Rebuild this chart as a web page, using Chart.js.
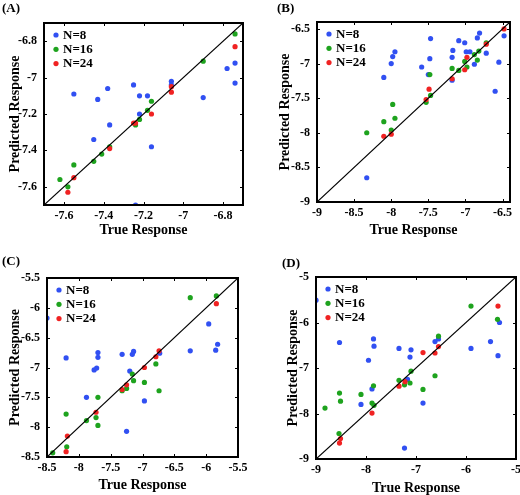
<!DOCTYPE html>
<html>
<head>
<meta charset="utf-8">
<script src="https://cdn.jsdelivr.net/npm/chart.js@4"></script>
<style>
  body { margin: 0; background: #fff; }
  #fig { position: relative; width: 520px; height: 495px; overflow: hidden; }
  canvas { position: absolute; }
  .tag { position: absolute; font: bold 13px "Liberation Serif", "Times New Roman", serif; line-height: 15px; }
</style>
</head>
<body>
<div id="fig">
  <canvas id="cA" width="260" height="245" style="left:0;top:0"></canvas>
  <canvas id="cB" width="260" height="245" style="left:260px;top:0"></canvas>
  <canvas id="cC" width="260" height="250" style="left:0;top:245px"></canvas>
  <canvas id="cD" width="260" height="250" style="left:260px;top:245px"></canvas>
  <div class="tag" style="left:2px;top:0">(A)</div>
  <div class="tag" style="left:277px;top:0">(B)</div>
  <div class="tag" style="left:2px;top:253px">(C)</div>
  <div class="tag" style="left:282px;top:255px">(D)</div>
</div>
<script>
const SERIES = ['N=8', 'N=16', 'N=24'];
const X_TITLE = 'True Response';
const Y_TITLE = 'Predicted Response';

// [true, predicted]
const A_N8 = [[-7.55,-7.09],[-7.43,-7.12],[-7.38,-7.06],[-7.25,-7.04],[-7.22,-7.10],[-7.18,-7.10],[-7.22,-7.20],[-7.37,-7.26],[-7.45,-7.34],[-7.16,-7.38],[-7.06,-7.02],[-7.06,-7.04],[-6.90,-7.11],[-6.78,-6.95],[-6.74,-6.92],[-6.74,-7.03],[-7.24,-7.70]];
const A_N16 = [[-7.62,-7.56],[-7.58,-7.60],[-7.55,-7.48],[-7.45,-7.46],[-7.41,-7.42],[-7.37,-7.38],[-7.24,-7.26],[-7.22,-7.23],[-7.18,-7.18],[-7.16,-7.13],[-6.90,-6.91],[-6.74,-6.76]];
const A_N24 = [[-7.58,-7.63],[-7.55,-7.55],[-7.37,-7.39],[-7.25,-7.25],[-7.24,-7.25],[-7.16,-7.20],[-7.06,-7.05],[-7.06,-7.08],[-6.74,-6.83]];

const B_N8 = [[-8.33,-8.65],[-8.10,-7.20],[-8.00,-7.00],[-7.98,-6.90],[-7.95,-6.83],[-7.59,-7.05],[-7.50,-7.16],[-7.48,-6.93],[-7.47,-6.64],[-7.18,-7.24],[-7.18,-6.91],[-7.17,-6.81],[-7.09,-6.67],[-7.01,-6.70],[-6.99,-6.83],[-6.94,-6.83],[-6.88,-7.01],[-6.84,-6.63],[-6.81,-6.56],[-6.72,-6.85],[-6.60,-7.40],[-6.55,-6.98],[-6.48,-6.60]];
const B_N16 = [[-8.33,-8.00],[-8.10,-7.84],[-7.98,-7.59],[-7.95,-7.79],[-8.00,-7.96],[-7.53,-7.56],[-7.47,-7.46],[-7.48,-7.16],[-7.18,-7.07],[-7.09,-7.10],[-7.01,-6.97],[-6.98,-7.05],[-6.88,-6.87],[-6.84,-6.95],[-6.82,-6.82],[-6.72,-6.70]];
const B_N24 = [[-8.10,-8.05],[-8.00,-8.02],[-7.53,-7.52],[-7.49,-7.37],[-7.18,-7.22],[-7.01,-7.09],[-6.98,-6.91],[-6.72,-6.72],[-6.48,-6.50]];

const C_N8 = [[-8.50,-6.17],[-8.20,-6.84],[-7.88,-7.50],[-7.76,-7.04],[-7.72,-7.01],[-7.70,-6.75],[-7.70,-6.83],[-7.32,-6.78],[-7.20,-7.06],[-7.16,-6.78],[-7.14,-6.73],[-7.25,-8.07],[-6.97,-7.56],[-6.73,-6.76],[-6.25,-6.72],[-5.96,-6.27],[-5.85,-6.71],[-5.82,-6.61]];
const C_N16 = [[-8.41,-8.43],[-8.19,-8.33],[-8.20,-7.78],[-7.88,-7.89],[-7.73,-7.84],[-7.70,-7.97],[-7.70,-7.50],[-7.32,-7.39],[-7.25,-7.35],[-7.16,-7.11],[-7.14,-7.22],[-6.97,-7.25],[-6.79,-6.94],[-6.74,-7.39],[-6.25,-5.83],[-5.84,-5.80]];
const C_N24 = [[-8.20,-8.41],[-8.18,-8.15],[-7.73,-7.75],[-7.32,-7.37],[-7.25,-7.29],[-6.97,-7.00],[-6.79,-6.82],[-6.74,-6.72],[-5.84,-5.93]];

const D_N8 = [[-9.00,-5.51],[-8.53,-6.44],[-8.10,-7.80],[-7.95,-6.83],[-7.88,-7.46],[-7.85,-6.36],[-7.84,-6.52],[-7.34,-6.57],[-7.12,-6.76],[-7.10,-6.60],[-7.17,-7.25],[-7.23,-8.76],[-6.86,-7.77],[-6.62,-6.42],[-6.55,-6.36],[-5.90,-6.57],[-5.51,-6.42],[-5.36,-6.73],[-5.33,-6.00]];
const D_N16 = [[-8.82,-7.88],[-8.53,-7.55],[-8.51,-7.73],[-8.54,-8.44],[-8.10,-7.58],[-7.88,-7.77],[-7.85,-7.39],[-7.84,-7.82],[-7.34,-7.27],[-7.23,-7.37],[-7.12,-7.33],[-7.10,-7.07],[-6.86,-7.47],[-6.62,-7.17],[-6.55,-6.30],[-5.90,-5.64],[-5.37,-5.93]];
const D_N24 = [[-8.53,-8.65],[-8.51,-8.55],[-7.88,-7.99],[-7.34,-7.40],[-7.22,-7.30],[-6.86,-6.66],[-6.62,-6.67],[-6.55,-6.53],[-5.36,-5.64]];

const A_RANGE = [-7.7, -6.7], A_TICKS = [-7.6, -7.4, -7.2, -7, -6.8];
const B_RANGE = [-9, -6.4],   B_TICKS = [-9, -8.5, -8, -7.5, -7, -6.5];
const C_RANGE = [-8.5, -5.5], C_TICKS = [-8.5, -8, -7.5, -7, -6.5, -6, -5.5];
const D_RANGE = [-9, -5],     D_TICKS = [-9, -8, -7, -6, -5];

const COLORS = ['#3150f2', '#1ea31e', '#f02222'];
const SERIF = '"Liberation Serif", "Times New Roman", serif';

// box with inward ticks on all sides + legend in the top-left corner
const framePlugin = {
  id: 'frame',
  afterDatasetsDraw(chart) {
    const { ctx, chartArea: a, scales: { x, y } } = chart;
    ctx.save();
    ctx.strokeStyle = '#000';
    ctx.lineWidth = 1;
    ctx.beginPath();
    for (const t of x.ticks) {
      const px = Math.round(x.getPixelForValue(t.value)) + 0.5;
      ctx.moveTo(px, a.bottom); ctx.lineTo(px, a.bottom - 3);
      ctx.moveTo(px, a.top); ctx.lineTo(px, a.top + 3);
    }
    for (const t of y.ticks) {
      const py = Math.round(y.getPixelForValue(t.value)) + 0.5;
      ctx.moveTo(a.left, py); ctx.lineTo(a.left + 3, py);
      ctx.moveTo(a.right, py); ctx.lineTo(a.right - 3, py);
    }
    ctx.stroke();
    ctx.lineWidth = 2;
    ctx.strokeRect(a.left, a.top, a.right - a.left, a.bottom - a.top);

    ctx.font = `bold 13px ${SERIF}`;
    ctx.textBaseline = 'middle';
    ctx.fillStyle = '#000';
    chart.data.datasets.filter((d) => d.label).forEach((d, i) => {
      const cy = a.top + 12 + i * 14.3;
      ctx.fillStyle = d.backgroundColor;
      ctx.beginPath();
      ctx.arc(a.left + 12, cy, 2.6, 0, Math.PI * 2);
      ctx.fill();
      ctx.fillStyle = '#000';
      ctx.fillText(d.label, a.left + 19, cy + 0.5);
    });
    ctx.restore();
  },
};

function axis(title, range, ticks, horiz, size, titlePad) {
  return {
    type: 'linear',
    min: range[0],
    max: range[1],
    grid: { display: false, drawTicks: false },
    border: { display: false },
    ticks: {
      autoSkip: false,
      maxRotation: 0,
      padding: horiz ? 4 : 7,
      color: '#000',
      font: { family: SERIF, size: 12, weight: 'bold' },
      callback: (v) => String(v),
    },
    title: {
      display: true,
      text: title,
      color: '#000',
      font: { family: SERIF, size: 14, weight: 'bold', lineHeight: 1 },
      padding: horiz ? { top: 0, bottom: titlePad } : { top: titlePad, bottom: 0 },
    },
    afterBuildTicks: (s) => { s.ticks = ticks.map((value) => ({ value })); },
    afterFit: (s) => {
      if (horiz) s.height = size; else s.width = size;
      s.paddingLeft = s.paddingRight = s.paddingTop = s.paddingBottom = 0;
    },
  };
}

function makePanel(id, series, range, ticks, box) {
  const datasets = SERIES.map((name, i) => ({
    label: name,
    data: series[i].map(([x, y]) => ({ x, y })),
    backgroundColor: COLORS[i],
    borderWidth: 0,
    pointRadius: 2.6,
    order: 3 - i,
    clip: 0,
  }));
  datasets.push({
    label: '',
    data: [{ x: range[0], y: range[0] }, { x: range[1], y: range[1] }],
    showLine: true,
    borderColor: '#000',
    borderWidth: 1.2,
    pointRadius: 0,
    order: 0,
    clip: 0,
  });

  new Chart(document.getElementById(id), {
    type: 'scatter',
    data: { datasets },
    plugins: [framePlugin],
    options: {
      responsive: false,
      animation: false,
      devicePixelRatio: 1,
      layout: { padding: { left: 0, right: box.right, top: box.top, bottom: 0 } },
      plugins: { legend: { display: false }, tooltip: { enabled: false } },
      scales: {
        x: axis(X_TITLE, range, ticks, true, box.bottom, box.xPad),
        y: axis(Y_TITLE, range, ticks, false, box.left, box.yPad),
      },
    },
  });
}

makePanel('cA', [A_N8, A_N16, A_N24], A_RANGE, A_TICKS, { left: 44, right: 17, top: 23, bottom: 40, xPad: 8, yPad: 8 });
makePanel('cB', [B_N8, B_N16, B_N24], B_RANGE, B_TICKS, { left: 57, right: 10, top: 22, bottom: 43, xPad: 8, yPad: 18 });
makePanel('cC', [C_N8, C_N16, C_N24], C_RANGE, C_TICKS, { left: 47, right: 22, top: 33, bottom: 38, xPad: 3, yPad: 8 });
makePanel('cD', [D_N8, D_N16, D_N24], D_RANGE, D_TICKS, { left: 56, right: 3, top: 32, bottom: 36, xPad: 0, yPad: 26 });
</script>
</body>
</html>
